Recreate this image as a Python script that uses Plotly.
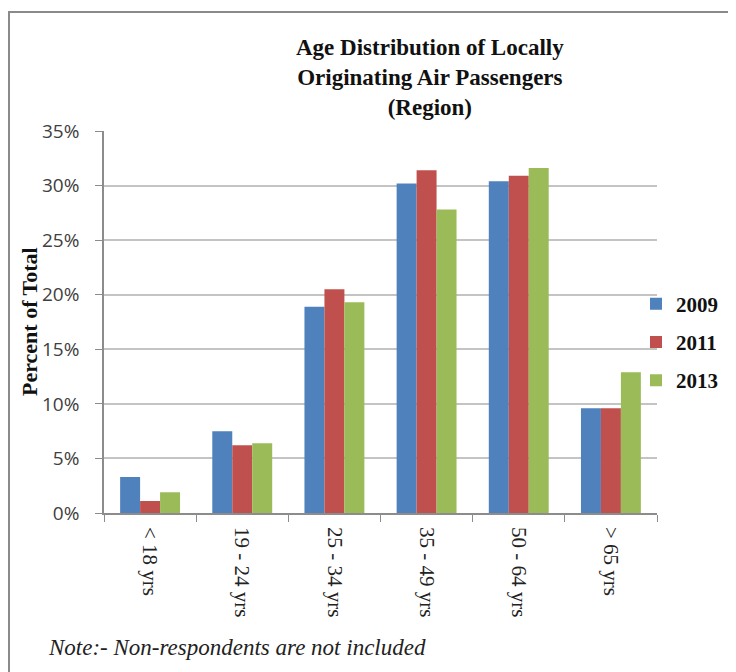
import plotly.graph_objects as go

categories = ["< 18 yrs", "19 - 24 yrs", "25 - 34 yrs", "35 - 49 yrs", "50 - 64 yrs", "> 65 yrs"]
years = ["2009", "2011", "2013"]
v2009 = [3.3, 7.5, 18.9, 30.2, 30.4, 9.6]
v2011 = [1.1, 6.2, 20.5, 31.4, 30.9, 9.6]
v2013 = [1.9, 6.4, 19.3, 27.8, 31.6, 12.9]
colors = ["#4F81BD", "#C0504D", "#9BBB59"]

OFF = 8  # page body margin
W, H = 736 - OFF, 672 - OFF
L, R, T, B = 104, 657, 131, 513  # plot area in reference pixels
pw, ph = R - L, B - T

def px(x):
    return (x - L) / pw

def py(y):
    return (B - y) / ph

fig = go.Figure()
for name, vals, c in zip(years, [v2009, v2011, v2013], colors):
    fig.add_trace(go.Bar(x=categories, y=vals, name=name, marker_color=c,
                         marker_line_width=0, legendgroup=name))

serif = "Liberation Serif, Times New Roman, serif"
fig.update_layout(
    width=W, height=H,
    margin=dict(l=L - OFF, r=W - (R - OFF), t=T - OFF, b=H - (B - OFF), pad=0),
    paper_bgcolor="white", plot_bgcolor="white",
    bargap=0.35, bargroupgap=0,
    showlegend=True,
    legend=dict(x=px(636), y=py(342), xanchor="left", yanchor="middle",
                font=dict(family=serif, size=21, color="#111", weight="bold"),
                tracegroupgap=8, itemwidth=30, bgcolor="rgba(0,0,0,0)"),
    xaxis=dict(showline=True, linecolor="#8c8c8c", linewidth=1.5,
               ticks="outside", tickson="boundaries", ticklen=7, tickcolor="#8c8c8c",
               tickangle=90, ticklabelstandoff=8,
               tickfont=dict(family=serif, size=21, color="#222"),
               showgrid=False),
    yaxis=dict(range=[0, 35], dtick=5, ticksuffix="%",
               showline=True, linecolor="#8c8c8c", linewidth=1.5,
               ticks="outside", ticklen=7, tickcolor="#8c8c8c",
               ticklabelstandoff=12,
               tickfont=dict(family="Open Sans, sans-serif", size=19, color="#404040"),
               showgrid=True, gridcolor="#c4c4c4", gridwidth=1.5, zeroline=False),
)

fig.add_annotation(text="<b>Age Distribution of Locally<br>Originating Air Passengers<br>(Region)</b>",
                   xref="paper", yref="paper", x=px(430), y=py(77),
                   xanchor="center", yanchor="middle", showarrow=False,
                   font=dict(family=serif, size=23, color="#111"))
fig.add_annotation(text="<b>Percent of Total</b>", textangle=-90,
                   xref="paper", yref="paper", x=px(29), y=py(322),
                   xanchor="center", yanchor="middle", showarrow=False,
                   font=dict(family=serif, size=22, color="#111"))
fig.add_annotation(text="<i>Note:- Non-respondents are not included</i>",
                   xref="paper", yref="paper", x=px(46), y=py(647),
                   xanchor="left", yanchor="middle", showarrow=False,
                   font=dict(family=serif, size=23, color="#222"))

fig.add_shape(type="rect", xref="paper", yref="paper",
              x0=px(9), x1=px(760), y0=py(720), y1=py(12),
              line=dict(color="#8a8a8a", width=2), fillcolor="rgba(0,0,0,0)", layer="below")

fig.write_html("out.html")
